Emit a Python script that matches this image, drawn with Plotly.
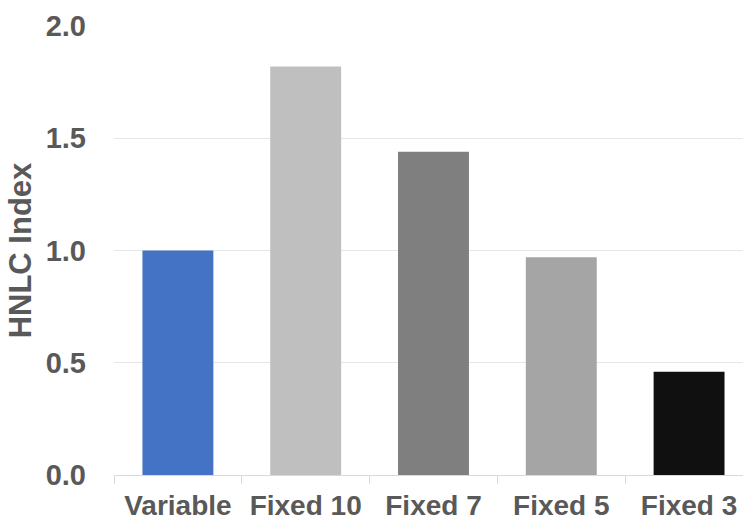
import plotly.graph_objects as go

# HNLC index for each scheme
categories = ["Variable", "Fixed 10", "Fixed 7", "Fixed 5", "Fixed 3"]
hnlc_index = [1.00, 1.82, 1.44, 0.97, 0.46]
bar_colors = ["#4472C4", "#BFBFBF", "#7F7F7F", "#A5A5A5", "#101010"]
y_ticks = [0.0, 0.5, 1.0, 1.5, 2.0]
y_tick_text = ["0.0", "0.5", "1.0", "1.5", "2.0"]

text_color = "#595959"
font_family = "Liberation Sans, Arial, sans-serif"

fig = go.Figure(
    go.Bar(
        x=categories,
        y=hnlc_index,
        marker=dict(color=bar_colors, line=dict(width=0)),
        width=0.555,
    )
)

fig.update_layout(
    width=743,
    height=521,
    margin=dict(l=114, r=0, t=26, b=46),
    paper_bgcolor="white",
    plot_bgcolor="white",
    showlegend=False,
    font=dict(family=font_family, color=text_color),
)

fig.update_xaxes(
    type="category",
    range=[-0.5, 4.422],
    automargin=False,
    showgrid=False,
    showline=True,
    linecolor="#D9D9D9",
    linewidth=1,
    ticks="outside",
    tickson="boundaries",
    ticklen=8,
    tickcolor="#D9D9D9",
    ticklabelstandoff=5,
    tickfont=dict(size=28, family=font_family, color=text_color, weight="bold"),
)

fig.update_yaxes(
    range=[0, 2.0],
    automargin=False,
    tickvals=y_ticks,
    ticktext=y_tick_text,
    showgrid=True,
    gridcolor="#E6E6E6",
    gridwidth=1,
    zeroline=False,
    showline=False,
    ticks="",
    ticklabelstandoff=27,
    tickfont=dict(size=29, family=font_family, color=text_color, weight="bold"),
    title=dict(
        text="HNLC Index",
        font=dict(size=31, family=font_family, color=text_color, weight="bold"),
        standoff=4,
    ),
)

fig.write_html("out.html")
